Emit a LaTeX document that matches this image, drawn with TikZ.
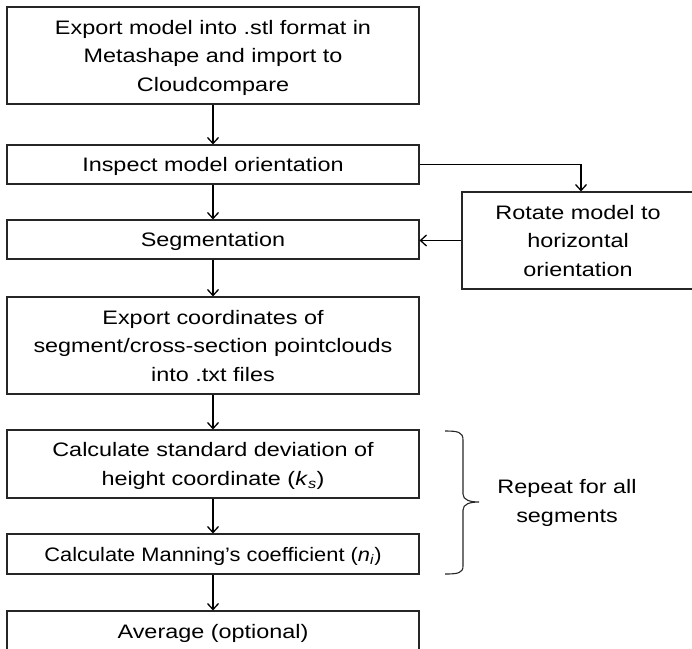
\documentclass[tikz,border=0pt]{standalone}
\usepackage{fontspec}
\setmainfont{Liberation Sans}[FakeStretch=1.2]
\newfontfamily\narrowfont{Liberation Sans}[FakeStretch=1.12]
\usetikzlibrary{arrows.meta}
\begin{document}
\begin{tikzpicture}[x=1pt,y=-1pt,
  every node/.style={font=\fontsize{19.5}{28.5}\selectfont},
  stepbox/.style={draw=black!85, line width=1.1pt, rectangle, minimum width=412pt, align=center, inner sep=0pt, text depth=0pt},
  arr/.style={draw=black, line width=1.3pt, -{Straight Barb[length=6pt,width=11pt,line width=1.3pt]}}]
\useasboundingbox (0,0) rectangle (692,648);
\clip (0,0) rectangle (692,648);
\node[stepbox, minimum height=97pt] (b1) at (213,55.5) {Export model into .stl format in\\Metashape and import to\\Cloudcompare};
\node[stepbox, minimum height=39pt] (b2) at (213,164.5) {Inspect model orientation};
\node[stepbox, minimum height=39pt] (b3) at (213,239.5) {Segmentation};
\node[stepbox, minimum width=232pt, minimum height=97pt] (r) at (578,240.5) {Rotate model to\\horizontal\\orientation};
\node[stepbox, minimum height=97pt] (b4) at (213,345.5) {Export coordinates of\\segment/cross-section pointclouds\\into .txt files};
\node[stepbox, minimum height=68pt] (b5) at (213,464) {Calculate standard deviation of\\height coordinate (\textit{k}\textsubscript{\textit{s}})};
\node[stepbox, minimum height=40pt] (b6) at (213,554) {\narrowfont Calculate Manning’s coefficient (\textit{n}\textsubscript{\textit{i}})};
\node[stepbox, minimum height=40pt] (b7) at (213,631) {Average (optional)};
\node[align=center] (rep) at (567,503) {Repeat for all\\segments};
\draw[arr] (b1) -- (b2);
\draw[arr] (b2) -- (b3);
\draw[arr] (b2.east) -| ([xshift=3pt]r.north);
\draw[arr] (r.west) -- (r.west -| b3.east);
\draw[arr] (b3) -- (b4);
\draw[arr] (b4) -- (b5);
\draw[arr] (b5) -- (b6);
\draw[arr] (b6) -- (b7);
\draw[black!85, line width=1.1pt] (445,431) .. controls (458,431) and (463,432) .. (463,440) -- (463,494) .. controls (463,500) and (470,502) .. (479,502) .. controls (470,502) and (463,504) .. (463,510) -- (463,566) .. controls (463,573) and (458,574) .. (445,574);
\end{tikzpicture}
\end{document}
